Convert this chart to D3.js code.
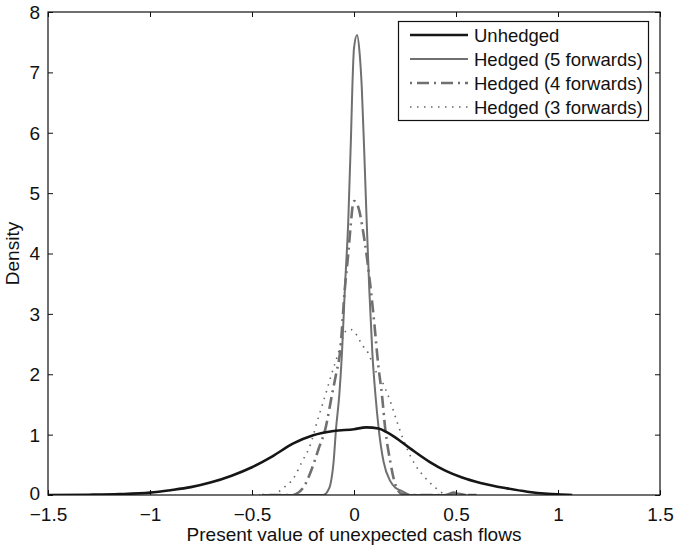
<!DOCTYPE html>
<html>
<head>
<meta charset="utf-8">
<script src="https://cdn.jsdelivr.net/npm/d3@7"></script>
<style>
  html, body { margin: 0; padding: 0; background: #fff; }
  svg { display: block; }
  text { font-family: "Liberation Sans", Arial, Helvetica, sans-serif; fill: #111; }
</style>
</head>
<body>
<svg id="chart" width="674" height="546"></svg>
<script>
// ---- data ----
const xTicks = [-1.5, -1, -0.5, 0, 0.5, 1, 1.5];
const xTickLabels = ["\u22121.5", "\u22121", "\u22120.5", "0", "0.5", "1", "1.5"];
const yTicks = [0, 1, 2, 3, 4, 5, 6, 7, 8];
const yTickLabels = ["0", "1", "2", "3", "4", "5", "6", "7", "8"];
const seriesNames = ["Unhedged", "Hedged (5 forwards)", "Hedged (4 forwards)", "Hedged (3 forwards)"];

const unhedgedX = [-1.5, -1.3, -1.15, -1.0, -0.9, -0.8, -0.7, -0.6, -0.5, -0.4, -0.3, -0.2, -0.1, 0.0, 0.06, 0.12, 0.16, 0.2, 0.28, 0.37, 0.45, 0.53, 0.62, 0.75, 0.85, 0.95, 1.0, 1.07];
const unhedgedY = [0.0, 0.005, 0.015, 0.04, 0.08, 0.13, 0.21, 0.32, 0.46, 0.64, 0.85, 0.99, 1.06, 1.09, 1.12, 1.10, 1.04, 0.96, 0.76, 0.55, 0.40, 0.29, 0.20, 0.11, 0.055, 0.02, 0.01, 0.0];

const fwd5X = [-0.45, -0.2, -0.15, -0.13, -0.116, -0.1, -0.088, -0.072, -0.059, -0.045, -0.028, -0.015, -0.008, 0.0, 0.015, 0.028, 0.038, 0.05, 0.062, 0.075, 0.09, 0.105, 0.121, 0.145, 0.178, 0.203, 0.225, 0.25, 0.276, 0.45, 0.5, 0.55];
const fwd5Y = [0, 0, 0, 0.06, 0.17, 0.55, 1.10, 1.66, 2.35, 3.4, 4.55, 5.9, 6.76, 7.4, 7.62, 7.3, 6.76, 5.7, 4.55, 3.4, 2.35, 1.66, 1.10, 0.55, 0.23, 0.12, 0.08, 0.04, 0, 0, 0.03, 0];

const fwd4X = [-0.45, -0.3, -0.288, -0.247, -0.206, -0.173, -0.14, -0.108, -0.088, -0.069, -0.044, -0.028, -0.014, -0.005, 0.002, 0.012, 0.025, 0.038, 0.065, 0.095, 0.12, 0.137, 0.153, 0.178, 0.203, 0.235, 0.3, 0.45, 0.49, 0.53, 0.6];
const fwd4Y = [0, 0, 0.01, 0.13, 0.44, 0.77, 1.10, 1.66, 2.0, 2.35, 3.45, 4.0, 4.55, 4.82, 4.87, 4.84, 4.72, 4.5, 3.89, 3.0, 2.12, 1.66, 1.10, 0.55, 0.17, 0.02, 0, 0, 0.04, 0, 0];

const fwd3X = [-0.5, -0.40, -0.345, -0.296, -0.255, -0.214, -0.181, -0.14, -0.11, -0.077, -0.055, -0.036, -0.015, 0.005, 0.026, 0.046, 0.07, 0.103, 0.127, 0.155, 0.178, 0.211, 0.252, 0.30, 0.35, 0.40, 0.46, 0.55, 0.6];
const fwd3Y = [0, 0, 0.12, 0.28, 0.55, 0.83, 1.21, 1.66, 2.0, 2.35, 2.6, 2.73, 2.74, 2.69, 2.57, 2.46, 2.35, 2.07, 1.95, 1.75, 1.55, 1.21, 0.83, 0.50, 0.28, 0.12, 0.0, 0.0, 0.0];

// ---- layout ----
const svg = d3.select("#chart");
const L = 48, R = 660, T = 12, B = 495;
const FS = 19;
const x = d3.scaleLinear().domain([-1.5, 1.5]).range([L, R]);
const y = d3.scaleLinear().domain([0, 8]).range([B, T]);

const grey = "#707070";
const styles = [
  { color: "#161616", width: 2.6, dash: null },
  { color: grey, width: 2.0, dash: null },
  { color: grey, width: 2.6, dash: "2,5,12,5" },
  { color: "#666", width: 1.6, dash: "1.5,5.5" }
];
const dataSets = [
  [unhedgedX, unhedgedY],
  [fwd5X, fwd5Y],
  [fwd4X, fwd4Y],
  [fwd3X, fwd3Y]
];

svg.append("rect").attr("x", L).attr("y", T).attr("width", R - L).attr("height", B - T)
  .attr("fill", "#fff").attr("stroke", "none");

// curves
const line = d3.line().x(d => x(d[0])).y(d => y(d[1])).curve(d3.curveMonotoneX);
svg.append("clipPath").attr("id", "clip").append("rect")
  .attr("x", L).attr("y", T - 2).attr("width", R - L).attr("height", B - T + 2);
[3, 2, 1, 0].forEach(i => {
  const pts = dataSets[i][0].map((xv, k) => [xv, dataSets[i][1][k]]);
  svg.append("path").datum(pts)
    .attr("d", line)
    .attr("fill", "none")
    .attr("stroke", styles[i].color)
    .attr("stroke-width", styles[i].width)
    .attr("stroke-dasharray", styles[i].dash)
    .attr("stroke-linejoin", "round")
    .attr("clip-path", "url(#clip)");
});

// axes (ticks inside, on all four sides)
const tickLen = 5;
const axB = svg.append("g").attr("transform", `translate(0,${B})`)
  .call(d3.axisBottom(x).tickValues(xTicks).tickSize(-tickLen).tickPadding(13)
    .tickFormat((d, i) => xTickLabels[i]));
const axT = svg.append("g").attr("transform", `translate(0,${T})`)
  .call(d3.axisTop(x).tickValues(xTicks).tickSize(-tickLen).tickFormat(""));
const axL = svg.append("g").attr("transform", `translate(${L},0)`)
  .call(d3.axisLeft(y).tickValues(yTicks).tickSize(-tickLen).tickPadding(8)
    .tickFormat((d, i) => yTickLabels[i]));
const axR = svg.append("g").attr("transform", `translate(${R},0)`)
  .call(d3.axisRight(y).tickValues(yTicks).tickSize(-tickLen).tickFormat(""));
[axB, axT, axL, axR].forEach(g => {
  g.select(".domain").remove();
  g.selectAll(".tick line").attr("stroke", "#111").attr("stroke-width", 1);
  g.selectAll("text").attr("font-size", FS).attr("fill", "#111")
    .style("font-family", "'Liberation Sans', Arial, sans-serif");
});
axB.selectAll("text").attr("dy", "0.71em");
axL.selectAll("text").attr("dy", d => d === 0 ? "0.22em" : "0.34em");

svg.append("rect").attr("x", L).attr("y", T).attr("width", R - L).attr("height", B - T)
  .attr("fill", "none").attr("stroke", "#111").attr("stroke-width", 1.2);

// axis labels
svg.append("text").attr("x", (L + R) / 2).attr("y", 541).attr("text-anchor", "middle")
  .attr("font-size", FS).text("Present value of unexpected cash flows");
svg.append("text").attr("transform", `translate(19,${(T + B) / 2}) rotate(-90)`)
  .attr("text-anchor", "middle").attr("font-size", FS).text("Density");

// legend
const lg = svg.append("g");
lg.append("rect").attr("x", 398.5).attr("y", 21.5).attr("width", 250).attr("height", 99)
  .attr("fill", "#fff").attr("stroke", "#111").attr("stroke-width", 1.2);
const rowY = [35, 59, 83, 107];
seriesNames.forEach((name, i) => {
  lg.append("line").attr("x1", 410).attr("x2", 468).attr("y1", rowY[i]).attr("y2", rowY[i])
    .attr("stroke", styles[i].color).attr("stroke-width", styles[i].width)
    .attr("stroke-dasharray", styles[i].dash);
  lg.append("text").attr("x", 474).attr("y", rowY[i]).attr("dy", "0.36em")
    .attr("font-size", 18.5).text(name);
});
</script>
</body>
</html>
